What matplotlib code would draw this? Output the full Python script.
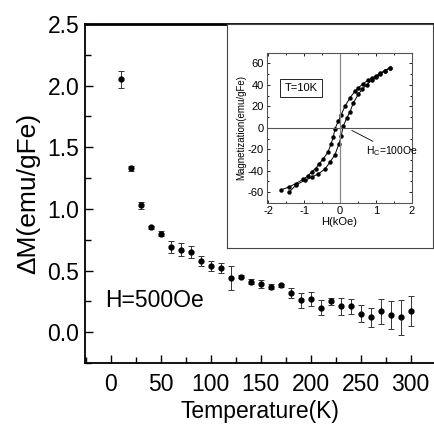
import matplotlib
matplotlib.use("Agg")
import matplotlib.pyplot as plt
from matplotlib.ticker import MultipleLocator

plt.rcParams['font.family'] = ['Liberation Sans', 'DejaVu Sans']
plt.rcParams['axes.unicode_minus'] = False

# Main data: Delta M vs temperature at H = 50 Oe
temperature = [10, 20, 30, 40, 50, 60, 70, 80, 90, 100, 110, 120, 130, 140, 150,
               160, 170, 180, 190, 200, 210, 220, 230, 240, 250, 260, 270, 280, 290, 300]
delta_m = [2.05, 1.33, 1.03, 0.85, 0.80, 0.69, 0.67, 0.65, 0.58, 0.54, 0.52, 0.44, 0.45, 0.41, 0.39,
           0.37, 0.38, 0.32, 0.26, 0.27, 0.20, 0.25, 0.21, 0.21, 0.15, 0.12, 0.17, 0.14, 0.12, 0.17]
delta_m_err = [0.07, 0.02, 0.03, 0.01, 0.02, 0.05, 0.05, 0.05, 0.04, 0.04, 0.04, 0.10, 0.01, 0.02, 0.03,
               0.02, 0.01, 0.04, 0.06, 0.06, 0.06, 0.03, 0.07, 0.06, 0.07, 0.075, 0.10, 0.115, 0.14, 0.12]

# Inset: hysteresis loop at T = 10 K
h_down = [1.40, 1.25, 1.12, 1.00, 0.88, 0.77, 0.65, 0.51, 0.42, 0.28, 0.14, 0.03, -0.05, -0.14,
          -0.19, -0.25, -0.34, -0.47, -0.59, -0.68, -0.79, -0.90, -1.03, -1.24, -1.42, -1.65]
m_down = [56, 53, 51, 48, 46, 44, 41, 37, 34, 28, 20, 12, 6, -1,
          -9, -15, -23, -29, -34, -38, -41, -45, -48, -52, -55, -58]
h_up = [-1.42, -1.22, -0.98, -0.79, -0.61, -0.42, -0.28, -0.14, -0.03, 0.03, 0.09, 0.19, 0.28,
        0.37, 0.51, 0.62, 0.75, 0.88, 1.00, 1.12, 1.25, 1.40]
m_up = [-60, -53, -49, -46, -43, -38.5, -32, -25, -15, -8, 1.5, 9, 15,
        23, 31, 36, 40, 44, 47, 50, 53, 56]

fig = plt.figure(figsize=(4.34, 4.28), dpi=100)

ax = fig.add_axes([85/434, 65/428, 349/434, 339/428])
ax.errorbar(temperature, delta_m, yerr=delta_m_err, fmt='o', color='black', ms=3.5,
            ecolor='#333333', elinewidth=0.7, capsize=2.2, capthick=0.7)
ax.set_xlim(-26, 323.5)
ax.set_ylim(-0.25, 2.5)
ax.xaxis.set_major_locator(MultipleLocator(50))
ax.xaxis.set_minor_locator(MultipleLocator(25))
ax.yaxis.set_major_locator(MultipleLocator(0.5))
ax.yaxis.set_minor_locator(MultipleLocator(0.25))
ax.yaxis.set_major_formatter(matplotlib.ticker.FormatStrFormatter('%.1f'))
ax.tick_params(which='both', direction='in', width=1.0)
ax.tick_params(which='major', length=5.5, labelsize=16.5)
ax.tick_params(which='minor', length=4)
ax.tick_params(axis='x', pad=7)
ax.tick_params(axis='y', pad=4)
ax.spines['right'].set_visible(False)
for s in ['left', 'bottom']:
    ax.spines[s].set_linewidth(1.3)
ax.spines['top'].set_linewidth(2.0)
ax.set_xlabel('Temperature(K)', fontsize=16.5, labelpad=3)
ax.set_ylabel('ΔM(emu/gFe)', fontsize=19, labelpad=5)
ax.text(-6, 0.26, 'H=500Oe', fontsize=16.5, ha='left', va='center')

# inset frame
frame = fig.add_axes([227/434, 180/428, 206/434, 224/428])
frame.set_xticks([])
frame.set_yticks([])
for s in frame.spines.values():
    s.set_linewidth(0.8)
    s.set_color('#444444')

ins = fig.add_axes([266.5/434, 225/428, 145.2/434, 150.5/428])
ins.plot(h_down, m_down, '-o', color='black', ms=2.2, lw=0.7)
ins.plot(h_up, m_up, '-o', color='black', ms=2.2, lw=0.7)
ins.axhline(0, color='#555555', lw=0.8)
ins.axvline(0, color='#888888', lw=0.9)
ins.set_xlim(-2.05, 2.0)
ins.set_ylim(-70, 70)
ins.xaxis.set_major_locator(MultipleLocator(1))
ins.xaxis.set_minor_locator(MultipleLocator(0.5))
ins.yaxis.set_major_locator(MultipleLocator(20))
ins.yaxis.set_minor_locator(MultipleLocator(10))
ins.tick_params(which='both', direction='in', top=True, right=True, width=0.6, labelsize=8, pad=2)
ins.tick_params(which='major', length=2.5)
ins.tick_params(which='minor', length=1.5)
for s in ins.spines.values():
    s.set_linewidth(0.8)
    s.set_color('#555555')
ins.set_xlabel('H(kOe)', fontsize=8, labelpad=1)
ins.set_ylabel('Magnetization(emu/gFe)', fontsize=7, labelpad=1)
ins.text(-1.09, 37, 'T=10K', fontsize=8, ha='center', va='center',
         bbox=dict(boxstyle='square,pad=0.4', fc='white', ec='black', lw=0.6))
ins.annotate('H$_\\mathregular{C}$=100Oe', xy=(0.33, -2.5), xytext=(0.72, -21.6),
             fontsize=7.5, ha='left', va='center',
             arrowprops=dict(arrowstyle='-', color='black', lw=0.6, shrinkA=0, shrinkB=0))

fig.savefig('out.png', dpi=100)
